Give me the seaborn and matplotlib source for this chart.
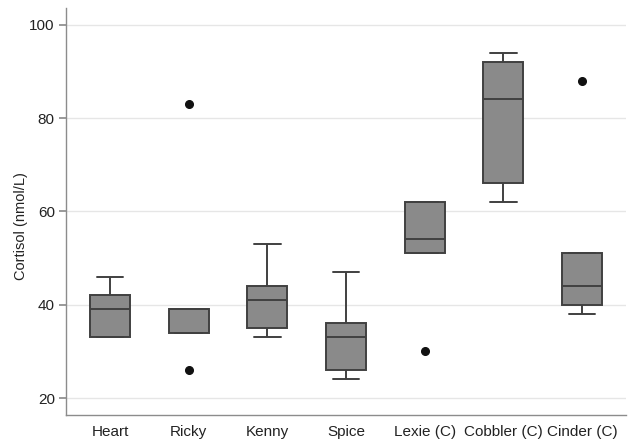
import numpy as np
import pandas as pd
import seaborn as sns
import matplotlib
matplotlib.use("Agg")
import matplotlib.pyplot as plt

categories = ["Heart", "Ricky", "Kenny", "Spice", "Lexie (C)", "Cobbler (C)", "Cinder (C)"]
heart = [33, 33, 39, 42, 46]
ricky = [26, 34, 39, 39, 83]
kenny = [33, 35, 41, 44, 53]
spice = [24, 26, 33, 36, 47]
lexie = [30, 51, 54, 62, 62]
cobbler = [62, 66, 84, 92, 94]
cinder = [38, 40, 44, 51, 88]
y_ticks = [20, 40, 60, 80, 100]

groups = [heart, ricky, kenny, spice, lexie, cobbler, cinder]
df = pd.DataFrame({
    "animal": [c for c, g in zip(categories, groups) for _ in g],
    "cortisol": [v for g in groups for v in g],
})

sns.set_theme(style="white")
plt.rcParams["font.family"] = ["Liberation Sans", "DejaVu Sans"]

fig, ax = plt.subplots(figsize=(6.4, 4.4), dpi=100)
fig.subplots_adjust(left=0.103, right=0.978, top=0.982, bottom=0.057)

edge = "#404040"
lw = 1.4
sns.boxplot(
    data=df, x="animal", y="cortisol", order=categories,
    color="#8a8a8a", saturation=1, width=0.51, whis=1.5,
    linecolor=edge, linewidth=lw,
    boxprops=dict(facecolor="#8a8a8a", edgecolor=edge),
    medianprops=dict(color=edge, linewidth=lw),
    whiskerprops=dict(color=edge, linewidth=lw),
    capprops=dict(color=edge, linewidth=lw),
    capwidths=0.34,
    flierprops=dict(marker="o", markerfacecolor="#111111", markeredgecolor="#111111",
                    markersize=5.5),
    ax=ax,
)

ax.set_xlim(-0.56, 6.56)
ax.set_ylim(16.4, 103.6)
ax.set_yticks(y_ticks)
ax.set_yticklabels([str(t) for t in y_ticks])
ax.yaxis.grid(True, color="#e6e6e6", linewidth=1)
ax.set_axisbelow(True)
ax.set_xlabel("")
ax.set_ylabel("Cortisol (nmol/L)", fontsize=10.5, color="#222222")
ax.yaxis.set_label_coords(-0.067, 0.464)
for s in ["top", "right"]:
    ax.spines[s].set_visible(False)
for s in ["left", "bottom"]:
    ax.spines[s].set_color("#8c8c8c")
    ax.spines[s].set_linewidth(1.0)
ax.tick_params(axis="y", which="major", left=True, length=5, color="#8c8c8c",
               labelsize=11, labelcolor="#222222", pad=3)
ax.tick_params(axis="x", bottom=False, length=0, labelsize=11, labelcolor="#222222", pad=7)

fig.savefig("out.png", dpi=100)
